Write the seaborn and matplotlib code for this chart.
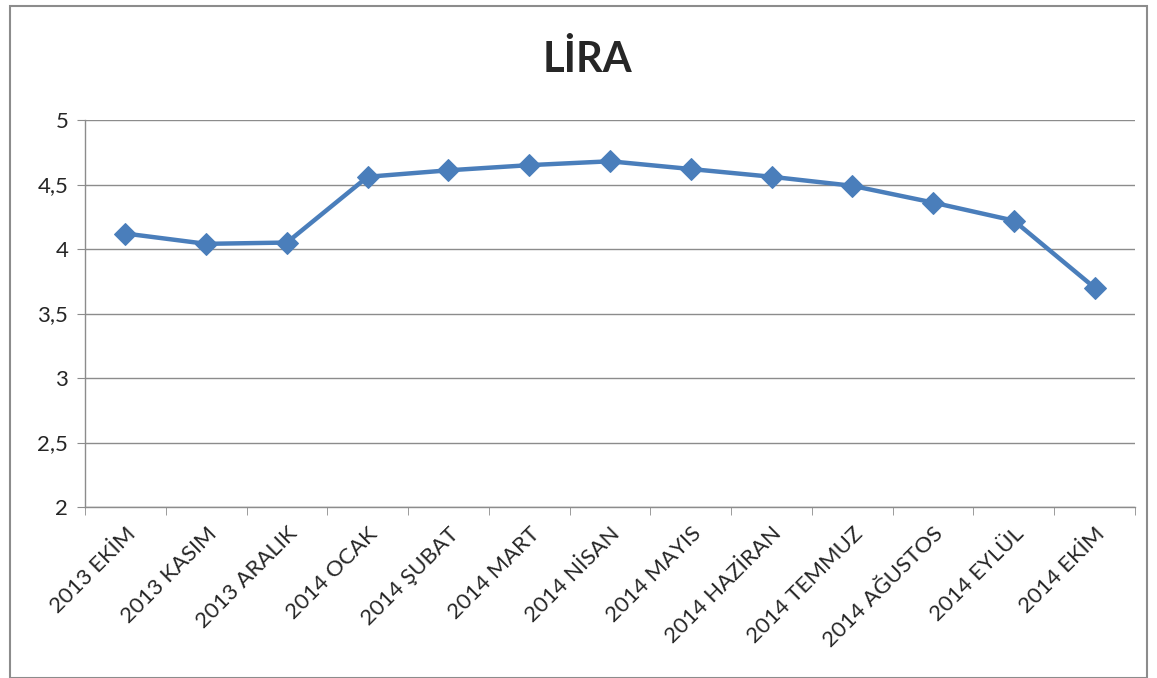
import numpy as np
import pandas as pd
import matplotlib
matplotlib.use("Agg")
import matplotlib.pyplot as plt
import seaborn as sns
from matplotlib.patches import Rectangle

months = ['2013 EKİM', '2013 KASIM', '2013 ARALIK', '2014 OCAK', '2014 ŞUBAT',
          '2014 MART', '2014 NİSAN', '2014 MAYIS', '2014 HAZİRAN', '2014 TEMMUZ',
          '2014 AĞUSTOS', '2014 EYLÜL', '2014 EKİM']
lira = [4.12, 4.04, 4.05, 4.56, 4.61, 4.65, 4.68, 4.62, 4.56, 4.49, 4.36, 4.22, 3.70]
y_ticks = [2, 2.5, 3, 3.5, 4, 4.5, 5]
y_labels = ['2', '2,5', '3', '3,5', '4', '4,5', '5']

sns.set_style("white")
plt.rcParams['font.family'] = ['Lato', 'DejaVu Sans']

df = pd.DataFrame({'pos': np.arange(len(months)), 'lira': lira})

fig = plt.figure(figsize=(11.57, 6.78), dpi=100)
ax = fig.add_axes([85 / 1157, 1 - 507 / 678, 1050 / 1157, 387 / 678])

sns.lineplot(data=df, x='pos', y='lira', ax=ax, color='#4A7EBB', linewidth=3.2,
             marker='D', markersize=11, markeredgecolor='#4A7EBB')

ax.set_xlim(-0.5, len(months) - 0.5)
ax.set_ylim(2, 5)
ax.set_yticks(y_ticks)
ax.set_yticklabels(y_labels, fontsize=16)
ax.yaxis.grid(True, color='#8c8c8c', linewidth=1)
ax.set_axisbelow(True)

# category labels at centers, tick marks between categories
ax.set_xticks(np.arange(len(months)))
ax.set_xticklabels(months, rotation=45, ha='right', va='top', rotation_mode='anchor', fontsize=16)
ax.tick_params(axis='x', which='major', length=0, pad=12)
ax.set_xticks(np.arange(-0.5, len(months)), minor=True)
ax.tick_params(axis='x', which='minor', length=6, color='#8c8c8c', direction='out', bottom=True)
ax.tick_params(axis='y', length=6, color='#8c8c8c', direction='out', left=True, pad=6)

for side in ['top', 'right']:
    ax.spines[side].set_visible(False)
for side in ['left', 'bottom']:
    ax.spines[side].set_color('#8c8c8c')
    ax.spines[side].set_linewidth(1)

ax.set_xlabel('')
ax.set_ylabel('')

fig.text(587 / 1157, 1 - 60 / 678, 'LİRA', ha='center', va='center', fontsize=30, fontweight='bold')

# chart frame
fig.patches.append(Rectangle((10 / 1157, 0.0), 1137 / 1157, 1 - 6 / 678, transform=fig.transFigure,
                             fill=False, edgecolor='#8c8c8c', linewidth=1.5))

fig.savefig('out.png', dpi=100)
